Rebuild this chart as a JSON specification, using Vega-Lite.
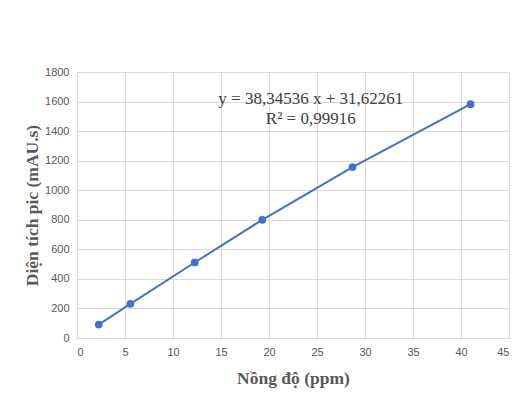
{
  "$schema": "https://vega.github.io/schema/vega-lite/v6.json",
  "autosize": {"type": "none"},
  "width": 432,
  "height": 266,
  "padding": {"left": 77, "top": 72, "right": 15, "bottom": 68},
  "background": "#ffffff",
  "config": {
    "view": {"stroke": "#d9d9d9", "strokeWidth": 1},
    "axis": {
      "labelFont": "Liberation Sans",
      "labelFontSize": 11,
      "labelColor": "#595959",
      "labelOverlap": false,
      "titleFont": "Liberation Serif",
      "titleFontSize": 17.5,
      "titleFontWeight": "bold",
      "titleColor": "#595959",
      "gridColor": "#d9d9d9",
      "gridWidth": 1,
      "ticks": false,
      "domainColor": "#d9d9d9"
    }
  },
  "datasets": {
    "points": [
      {"conc": 2.26, "area": 91},
      {"conc": 5.56, "area": 231},
      {"conc": 12.26, "area": 511},
      {"conc": 19.3, "area": 800},
      {"conc": 28.7, "area": 1157},
      {"conc": 41.0, "area": 1582}
    ],
    "notes": [
      {"conc": 24.35, "area": 1616, "label": "y = 38,34536 x + 31,62261"},
      {"conc": 24.35, "area": 1481, "label": "R² = 0,99916"}
    ]
  },
  "encoding": {
    "x": {
      "field": "conc",
      "type": "quantitative",
      "scale": {"domain": [0, 45], "nice": false},
      "axis": {"values": [0, 5, 10, 15, 20, 25, 30, 35, 40, 45], "format": "d", "labelPadding": 8, "title": "Nồng độ (ppm)", "titlePadding": 12}
    },
    "y": {
      "field": "area",
      "type": "quantitative",
      "scale": {"domain": [0, 1800], "nice": false},
      "axis": {"values": [0, 200, 400, 600, 800, 1000, 1200, 1400, 1600, 1800], "format": "d", "labelOverlap": false, "labelPadding": 8, "domain": false, "title": "Diện tích pic (mAU.s)", "titlePadding": 3}
    }
  },
  "layer": [
    {
      "data": {"name": "points"},
      "mark": {"type": "line", "color": "#4472C4", "strokeWidth": 2, "point": {"filled": true, "size": 60, "color": "#4472C4"}}
    },
    {
      "data": {"name": "notes"},
      "mark": {"type": "text", "font": "Liberation Serif", "fontSize": 17, "color": "#404040", "align": "center", "baseline": "middle"},
      "encoding": {
        "text": {"field": "label", "type": "nominal"}
      }
    }
  ]
}
